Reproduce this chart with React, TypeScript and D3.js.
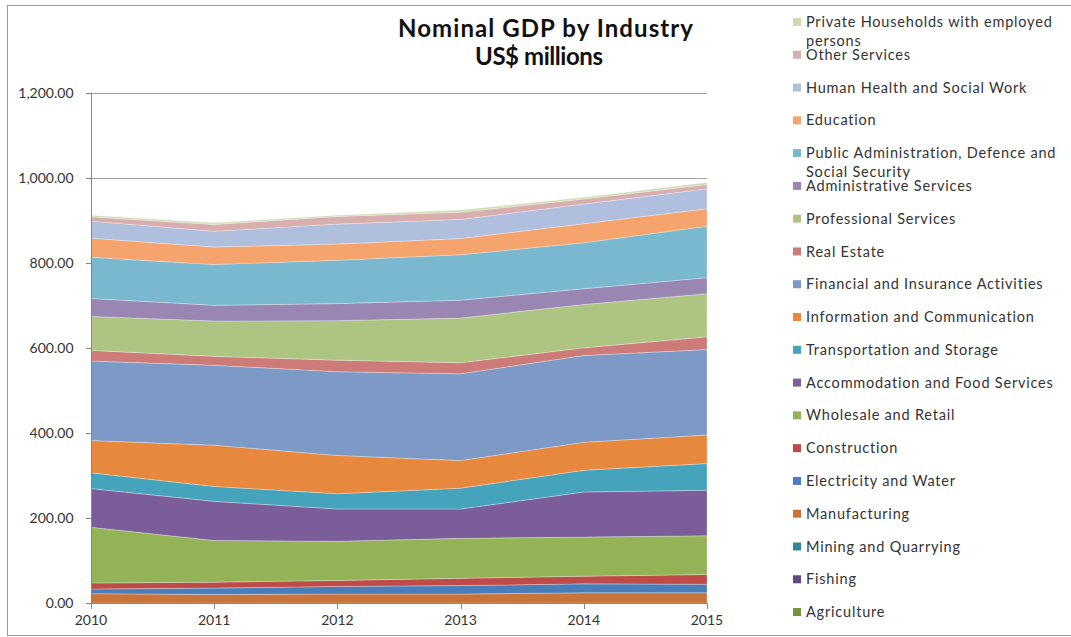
import React from "react";
import * as d3 from "d3";

const years = [2010, 2011, 2012, 2013, 2014, 2015];

// stacking order: bottom to top
const seriesNames = [
  "Agriculture",
  "Fishing",
  "Mining and Quarrying",
  "Manufacturing",
  "Electricity and Water",
  "Construction",
  "Wholesale and Retail",
  "Accommodation and Food Services",
  "Transportation and Storage",
  "Information and Communication",
  "Financial and Insurance Activities",
  "Real Estate",
  "Professional Services",
  "Administrative Services",
  "Public Administration, Defence and Social Security",
  "Education",
  "Human Health and Social Work",
  "Other Services",
  "Private Households with employed persons",
];

const agriculture = [0, 0, 0, 0, 0, 0];
const fishing = [0, 0, 0, 0, 0, 0];
const mining = [0, 0, 0, 0, 0, 0];
const manufacturing = [22, 20, 21, 21, 24, 24];
const electricity = [11, 15, 18, 20, 21, 20];
const construction = [14, 14, 14, 17, 18, 23];
const wholesale = [131, 98, 92, 94, 92, 91];
const accommodation = [91, 92, 76, 69, 106, 107];
const transportation = [37, 35, 36, 49, 51, 63];
const information = [76, 97, 90, 65, 66, 67];
const financial = [187, 188, 197, 204, 204, 201];
const realEstate = [25, 21, 27, 26, 18, 30];
const professional = [80, 83, 93, 105, 102, 101];
const administrative = [42, 37, 40, 42, 37, 38];
const publicAdmin = [97, 96, 102, 107, 108, 121];
const education = [45, 41, 38, 38, 45, 41];
const health = [40, 37, 47, 45, 46, 47];
const otherServices = [10, 16, 18, 17, 12, 10];
const privateHouseholds = [4, 4, 3, 5, 4, 5];

const seriesValues = [
  agriculture, fishing, mining, manufacturing, electricity, construction,
  wholesale, accommodation, transportation, information, financial, realEstate,
  professional, administrative, publicAdmin, education, health, otherServices,
  privateHouseholds,
];

const seriesColors = [
  "#77933C", "#604A7B", "#31859C", "#C8733A", "#4A7EBB", "#BE4B48",
  "#93B356", "#7B5D9A", "#46A3BC", "#E8883F", "#7D9AC6", "#CC7B79",
  "#ADC483", "#9A86B3", "#79B8CE", "#F5A46E", "#AFBFDD", "#D8AEAE",
  "#CFDBB5",
];

// legend labels split into lines
const legendLines: Record<string, string[]> = {
  "Private Households with employed persons": ["Private Households with employed", "persons"],
  "Public Administration, Defence and Social Security": ["Public Administration, Defence and", "Social Security"],
};

const yTicks = [0, 200, 400, 600, 800, 1000, 1200];

const W = 1071;
const H = 637;
const FONT = "Lato, 'Open Sans', sans-serif";

export default function App() {
  const x = d3.scaleLinear().domain([2010, 2015]).range([91, 707]);
  const y = d3.scaleLinear().domain([0, 1200]).range([603, 92.7]);

  const table = years.map((yr, i) => {
    const row: Record<string, number> = { year: yr };
    seriesNames.forEach((n, s) => (row[n] = seriesValues[s][i]));
    return row;
  });
  const stacked = d3.stack<Record<string, number>>().keys(seriesNames)(table);
  const area = d3
    .area<any>()
    .x((d) => x(d.data.year))
    .y0((d) => y(d[0]))
    .y1((d) => y(d[1]));

  const legendOrder = [...seriesNames].reverse();
  const fmt = d3.format(",.2f");

  return (
    <svg width={W} height={H} style={{ position: "absolute", left: 0, top: 0, background: "#fff" }}>
      <rect x={7.5} y={5.5} width={1080} height={630} fill="#fff" stroke="#9a9a9a" strokeWidth={1} />
      {/* gridlines */}
      {yTicks.map((t) => (
        <line key={"g" + t} x1={91} x2={707} y1={Math.round(y(t)) + 0.5} y2={Math.round(y(t)) + 0.5} stroke="#A6A6A6" strokeWidth={1} />
      ))}
      {/* areas */}
      {stacked.map((s, i) => (
        <path key={s.key} d={area(s as any) || ""} fill={seriesColors[i]} stroke="#ffffff" strokeOpacity={0.45} strokeWidth={0.6} />
      ))}
      {/* y axis */}
      <line x1={91.5} x2={91.5} y1={y(1200)} y2={y(0)} stroke="#868686" />
      {yTicks.map((t) => (
        <g key={"y" + t}>
          <line x1={86} x2={91} y1={Math.round(y(t)) + 0.5} y2={Math.round(y(t)) + 0.5} stroke="#868686" />
          <text x={73.5} y={y(t)} dy="0.35em" textAnchor="end" fontFamily={FONT} fontSize={14} fill="#333">
            {fmt(t)}
          </text>
        </g>
      ))}
      {/* x axis */}
      <line x1={91} x2={707} y1={603.5} y2={603.5} stroke="#868686" />
      {years.map((yr) => (
        <g key={"x" + yr}>
          <line x1={Math.round(x(yr)) + 0.5} x2={Math.round(x(yr)) + 0.5} y1={603} y2={609} stroke="#868686" />
          <text x={x(yr)} y={620} dy="0.35em" textAnchor="middle" fontFamily={FONT} fontSize={14} fill="#333">
            {yr}
          </text>
        </g>
      ))}
      {/* title */}
      <text x={398} y={37} textLength={295} lengthAdjust="spacing" fontFamily={FONT} fontWeight="bold" fontSize={24} fill="#111">
        Nominal GDP by Industry
      </text>
      <text x={475} y={65} textLength={128} lengthAdjust="spacing" fontFamily={FONT} fontWeight="bold" fontSize={24} fill="#111">
        US$ millions
      </text>
      {/* legend */}
      {legendOrder.map((name, i) => {
        const cy = 22 + i * 32.78;
        const idx = seriesNames.indexOf(name);
        const lines = legendLines[name] || [name];
        return (
          <g key={"l" + name}>
            <rect x={793} y={cy - 4} width={8} height={8} fill={seriesColors[idx]} />
            {lines.map((ln, j) => (
              <text key={j} x={806} y={cy + j * 18.5} dy="0.35em" fontFamily={FONT} fontSize={14.5} letterSpacing={0.8} fill="#333">
                {ln}
              </text>
            ))}
          </g>
        );
      })}
    </svg>
  );
}
